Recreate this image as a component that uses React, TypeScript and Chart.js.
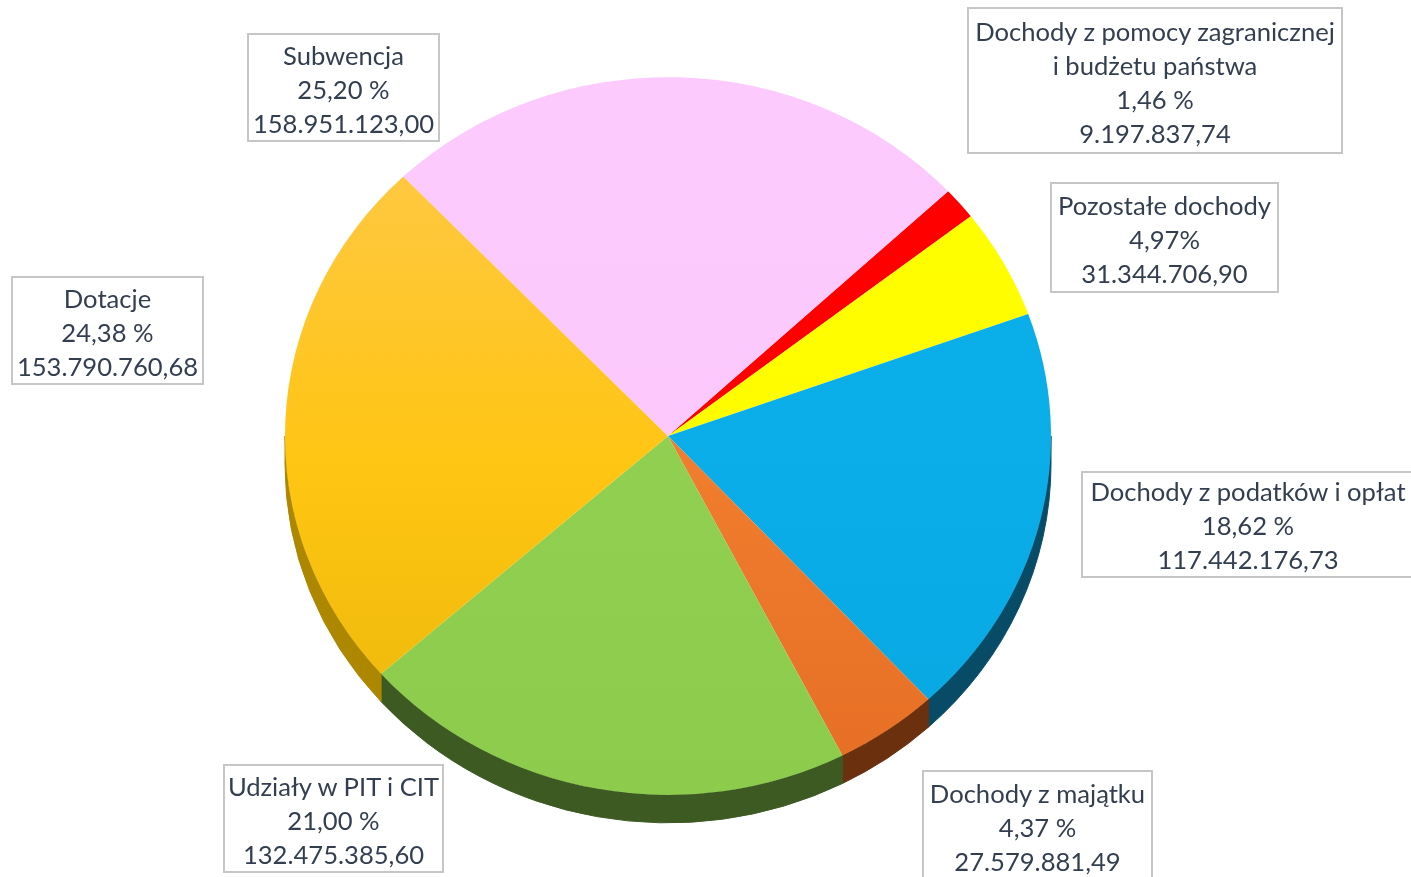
import React, { useEffect, useRef } from "react";
import { Chart, registerables } from "chart.js";

Chart.register(...registerables);

// ---- data ----
const categories = [
  "Dochody z pomocy zagranicznej\ni budżetu państwa",
  "Pozostałe dochody",
  "Dochody z podatków i opłat",
  "Dochody z majątku",
  "Udziały w PIT i CIT",
  "Dotacje",
  "Subwencja",
];
const amounts = [
  9197837.74, 31344706.9, 117442176.73, 27579881.49, 132475385.6, 153790760.68, 158951123.0,
];
const percentLabels = ["1,46 %", "4,97%", "18,62 %", "4,37 %", "21,00 %", "24,38 %", "25,20 %"];

// ---- styles ----
const topColors = ["#FF0000", "#FFFF00", "#0BAFEA", "#F3843A", "#93D152", "#FFC94F", "#FCCAFC"];
const midColors = ["#FF0000", "#FFFC00", "#0AADE8", "#F07C2E", "#91CF50", "#FFC512", "#FCC8FC"];
const bottomColors = ["#F20000", "#FFF500", "#08A8E2", "#E56E24", "#8CCB4C", "#E8B60A", "#FFC5FF"];
const sideColors = ["#8A0000", "#8C8A00", "#074B66", "#6B300E", "#3D5A23", "#AD8700", "#A57FA5"];

const boxLayout = [
  { left: 967, top: 7, width: 376, height: 147, pad: 5 },
  { left: 1050, top: 182, width: 229, height: 111, pad: 4 },
  { left: 1081, top: 471, width: 334, height: 107, pad: 1 },
  { left: 922, top: 770, width: 231, height: 130, pad: 4 },
  { left: 223, top: 764, width: 221, height: 109, pad: 3 },
  { left: 11, top: 276, width: 193, height: 109, pad: 3 },
  { left: 247, top: 33, width: 193, height: 109, pad: 3 },
];

const SY = 0.937;
const DEPTH = 28;

function formatPL(v: number): string {
  const [i, d] = v.toFixed(2).split(".");
  return i.replace(/\B(?=(\d{3})+(?!\d))/g, ".") + "," + d;
}

const pie3d = {
  id: "pie3d",
  beforeDatasetsDraw(chart: any) {
    const ctx = chart.ctx as CanvasRenderingContext2D;
    const meta = chart.getDatasetMeta(0);
    const first = meta.data[0];
    const cx = first.x;
    const cy = first.y;
    ctx.save();
    ctx.translate(cx, cy);
    ctx.scale(1, SY);
    ctx.translate(-cx, -cy);
    const d = DEPTH / SY;
    const TWO = Math.PI * 2;
    meta.data.forEach((arc: any, i: number) => {
      const p = arc.getProps(["startAngle", "endAngle", "outerRadius"], true);
      const a0 = ((p.startAngle % TWO) + TWO) % TWO;
      const a1 = a0 + (p.endAngle - p.startAngle);
      const r = p.outerRadius;
      for (const [lo, hi] of [
        [0, Math.PI],
        [TWO, TWO + Math.PI],
      ]) {
        const s = Math.max(a0, lo);
        const e = Math.min(a1, hi);
        if (e > s) {
          ctx.beginPath();
          ctx.arc(cx, cy + d, r, s, e);
          ctx.arc(cx, cy, r, e, s, true);
          ctx.closePath();
          ctx.fillStyle = sideColors[i];
          ctx.strokeStyle = sideColors[i];
          ctx.lineWidth = 1;
          ctx.fill();
          ctx.stroke();
        }
      }
    });
  },
  afterDatasetsDraw(chart: any) {
    chart.ctx.restore();
  },
};

export default function App() {
  const canvasRef = useRef<HTMLCanvasElement | null>(null);

  useEffect(() => {
    if (!canvasRef.current) return;
    const chart = new Chart(canvasRef.current, {
      type: "pie",
      data: {
        labels: categories,
        datasets: [
          {
            data: amounts,
            backgroundColor: (c: any) => {
              const i = c.dataIndex;
              const area = c.chart.chartArea;
              if (!area) return topColors[i];
              const g = c.chart.ctx.createLinearGradient(0, area.top, 0, area.bottom);
              g.addColorStop(0, topColors[i]);
              g.addColorStop(0.55, midColors[i]);
              g.addColorStop(1, bottomColors[i]);
              return g;
            },
            borderWidth: 0,
            clip: false,
          } as any,
        ],
      },
      options: {
        responsive: false,
        animation: false,
        devicePixelRatio: 1,
        rotation: 47,
        events: [],
        layout: { padding: { left: 285, right: 360, top: 53, bottom: 58 } },
        plugins: {
          legend: { display: false },
          tooltip: { enabled: false },
        },
      },
      plugins: [pie3d],
    });
    return () => chart.destroy();
  }, []);

  return (
    <div
      style={{
        position: "fixed",
        left: 0,
        top: 0,
        width: 1411,
        height: 877,
        overflow: "hidden",
        background: "#FFFFFF",
      }}
    >
      <canvas
        ref={canvasRef}
        width={1411}
        height={877}
        style={{ position: "absolute", left: 0, top: 0, width: 1411, height: 877 }}
      />
      {categories.map((name, i) => {
        const b = boxLayout[i];
        return (
          <div
            key={i}
            style={{
              position: "absolute",
              left: b.left,
              top: b.top,
              width: b.width,
              height: b.height,
              boxSizing: "border-box",
              border: "2px solid #C6C6C6",
              paddingTop: b.pad,
              textAlign: "center",
              whiteSpace: "pre-line",
              fontFamily: "Lato, 'Open Sans', sans-serif",
              fontSize: 25.6,
              lineHeight: "34px",
              color: "#333F50",
            }}
          >
            {name + "\n" + percentLabels[i] + "\n" + formatPL(amounts[i])}
          </div>
        );
      })}
    </div>
  );
}
